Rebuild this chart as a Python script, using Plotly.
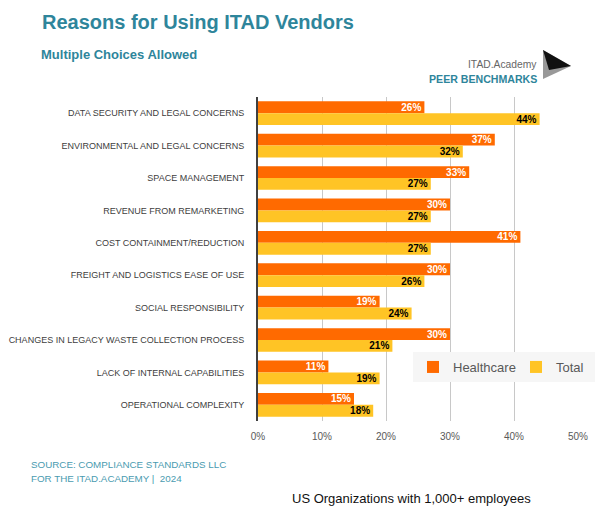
import plotly.graph_objects as go

categories = [
    "DATA SECURITY AND LEGAL CONCERNS",
    "ENVIRONMENTAL AND LEGAL CONCERNS",
    "SPACE MANAGEMENT",
    "REVENUE FROM REMARKETING",
    "COST CONTAINMENT/REDUCTION",
    "FREIGHT AND LOGISTICS EASE OF USE",
    "SOCIAL RESPONSIBILITY",
    "CHANGES IN LEGACY WASTE COLLECTION PROCESS",
    "LACK OF INTERNAL CAPABILITIES",
    "OPERATIONAL COMPLEXITY",
]
healthcare = [26, 37, 33, 30, 41, 30, 19, 30, 11, 15]
total = [44, 32, 27, 27, 27, 26, 24, 21, 19, 18]
tick_vals = [0, 10, 20, 30, 40, 50]
tick_text = ["0%", "10%", "20%", "30%", "40%", "50%"]

# page body has an 8px margin: the figure is placed at (8, 8) in the window
OFF = 8
W, H = 603 - OFF, 512 - OFF
# plot area in window pixels
L, R, T, B = 258, 578, 97, 421

def px(x):
    return (x - L) / (R - L)

def py(y):
    return (B - y) / (B - T)

label_font = "Liberation Sans, Arial, sans-serif"

fig = go.Figure()
fig.add_trace(go.Bar(
    name="Healthcare", y=categories, x=healthcare, orientation="h",
    marker=dict(color="#FF6A00"),
    text=[f"{v}%" for v in healthcare], textposition="inside",
    insidetextanchor="end", textangle=0,
    textfont=dict(color="white", size=10, family="Liberation Sans, Arial", weight="bold"),
))
fig.add_trace(go.Bar(
    name="Total", y=categories, x=total, orientation="h",
    marker=dict(color="#FFC425"),
    text=[f"{v}%" for v in total], textposition="inside",
    insidetextanchor="end", textangle=0,
    textfont=dict(color="black", size=10, family="Liberation Sans, Arial", weight="bold"),
))

fig.update_layout(
    template="none",
    width=W, height=H,
    margin=dict(l=L - OFF, r=W - (R - OFF), t=T - OFF, b=H - (B - OFF), pad=0, autoexpand=False),
    paper_bgcolor="white", plot_bgcolor="white",
    barmode="group", bargap=0.27, bargroupgap=0.0,
    uniformtext=dict(mode="show", minsize=8),
    font=dict(family=label_font, color="#404040"),
    xaxis=dict(range=[0, 50], tickvals=tick_vals, ticktext=tick_text,
               showgrid=True, gridcolor="#C8C8C8", gridwidth=1,
               zeroline=False, showline=False, automargin=False,
               tickfont=dict(size=10, color="#595959", family=label_font),
               ticks="", ticklabelstandoff=8),
    yaxis=dict(autorange="reversed", showline=True, linecolor="#404040", linewidth=2,
               automargin=False,
               tickfont=dict(size=9, color="#404040", family=label_font),
               ticks="", ticklabelstandoff=10, showgrid=False),
    legend=dict(orientation="h", x=px(413), y=py(352), xanchor="left", yanchor="top",
                bgcolor="#F6F6F6", font=dict(size=13, color="#595959", family="Liberation Sans, Arial"),
                itemwidth=30, traceorder="normal", entrywidth=58, entrywidthmode="pixels"),
    showlegend=True,
)

annos = [
    dict(text="<b>Reasons for Using ITAD Vendors</b>", x=px(40), y=py(22),
         font=dict(size=20, color="#2E859B", family="Liberation Sans, Arial")),
    dict(text="<b>Multiple Choices Allowed</b>", x=px(39), y=py(54),
         font=dict(size=13, color="#2E859B", family="Liberation Sans, Arial")),
    dict(text="SOURCE: COMPLIANCE STANDARDS LLC", x=px(29), y=py(464),
         font=dict(size=9.8, color="#4A9BB0", family=label_font)),
    dict(text="FOR THE ITAD.ACADEMY |  2024", x=px(29), y=py(478),
         font=dict(size=9.8, color="#4A9BB0", family=label_font)),
    dict(text="US Organizations with 1,000+ employees", x=px(290), y=py(498),
         font=dict(size=13, color="#111111", family="Liberation Sans, Arial")),
]
for a in annos:
    fig.add_annotation(xref="paper", yref="paper", xanchor="left", yanchor="middle",
                       showarrow=False, **a)

fig.add_annotation(xref="paper", yref="paper", xanchor="right", yanchor="middle",
                   showarrow=False, text="ITAD.Academy", x=px(539), y=py(64),
                   font=dict(size=10.3, color="#666666", family=label_font))
fig.add_annotation(xref="paper", yref="paper", xanchor="right", yanchor="middle",
                   showarrow=False, text="<b>PEER BENCHMARKS</b>", x=px(539), y=py(79),
                   font=dict(size=10.6, color="#2E859B", family=label_font))

# logo triangle
fig.add_shape(type="path", xref="paper", yref="paper",
              path=f"M {px(543)} {py(50)} L {px(571)} {py(66)} L {px(543)} {py(79)} Z",
              fillcolor="#999999", line=dict(width=0))
fig.add_shape(type="path", xref="paper", yref="paper",
              path=f"M {px(543)} {py(50)} L {px(571)} {py(66)} L {px(549)} {py(70)} Z",
              fillcolor="#111111", line=dict(width=0))

fig.write_html("out.html")
